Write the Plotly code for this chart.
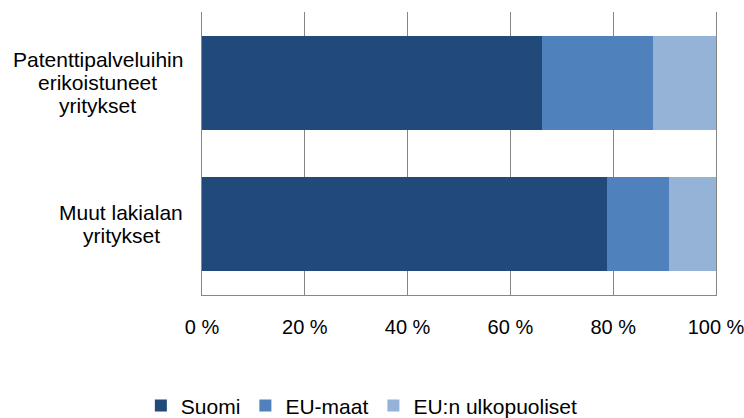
import plotly.graph_objects as go

categories = ["Patenttipalveluihin<br>erikoistuneet<br>yritykset", "Muut lakialan<br>yritykset"]
series_names = ["Suomi", "EU-maat", "EU:n ulkopuoliset"]
suomi = [66.2, 78.7]
eu_maat = [21.5, 12.1]
eu_ulkop = [12.3, 9.2]
tick_vals = [0, 20, 40, 60, 80, 100]
tick_text = ["0 %", "20 %", "40 %", "60 %", "80 %", "100 %"]

colors = ["#214A7B", "#4F81BD", "#95B3D7"]
font_fam = "Liberation Sans, Arial, sans-serif"
label_size = 21
line_step = 23

# approximate Arial advance widths (per 1000 em) to centre label lines in a right-aligned block
_w = {"P": 667, "M": 833, " ": 278, "a": 556, "t": 278, "e": 556, "n": 556, "i": 222,
      "p": 556, "l": 222, "v": 500, "u": 556, "h": 556, "r": 333, "k": 500, "o": 556,
      "s": 500, "y": 500}


def text_w(s, size):
    return sum(_w.get(ch, 556) for ch in s) / 1000 * size


fig = go.Figure()
for name, vals, col in zip(series_names, [suomi, eu_maat, eu_ulkop], colors):
    fig.add_trace(go.Bar(y=categories, x=vals, name=name, orientation="h",
                         marker=dict(color=col, line=dict(width=0))))

for c in categories:
    lines = c.split("<br>")
    n = len(lines)
    block_w = max(text_w(l, label_size) for l in lines)
    for i, ln in enumerate(lines):
        fig.add_annotation(x=-0.037, xref="paper", y=c, yref="y", text=ln,
                           showarrow=False, xanchor="center", align="center",
                           yshift=((n - 1) / 2 - i) * line_step, xshift=-block_w / 2,
                           font=dict(family=font_fam, size=label_size, color="#000000"))

fig.update_layout(
    barmode="stack",
    bargap=0.335,
    width=744, height=418,
    margin=dict(l=202, r=28, t=12, b=123, autoexpand=False),
    paper_bgcolor="white", plot_bgcolor="white",
    font=dict(family=font_fam, size=21, color="#000000"),
    legend=dict(orientation="h", xref="paper", yref="paper",
                x=0.311, xanchor="center", y=-0.392, yanchor="middle",
                font=dict(size=21), traceorder="normal", itemwidth=30),
    xaxis=dict(range=[0, 100], tickvals=tick_vals, ticktext=tick_text,
               showgrid=True, gridcolor="#868686", gridwidth=1,
               zeroline=False, showline=True, linecolor="#868686", linewidth=1,
               ticks="", ticklabelstandoff=14, tickfont=dict(size=20),
               ticklabeloverflow="allow"),
    yaxis=dict(autorange="reversed", showticklabels=False, showgrid=False,
               zeroline=False, showline=True, mirror=True,
               linecolor="#868686", linewidth=1, ticks=""),
)

fig.write_html("out.html", config={"displayModeBar": False},
               post_script="document.body.style.margin='0';document.body.style.overflow='hidden';")
